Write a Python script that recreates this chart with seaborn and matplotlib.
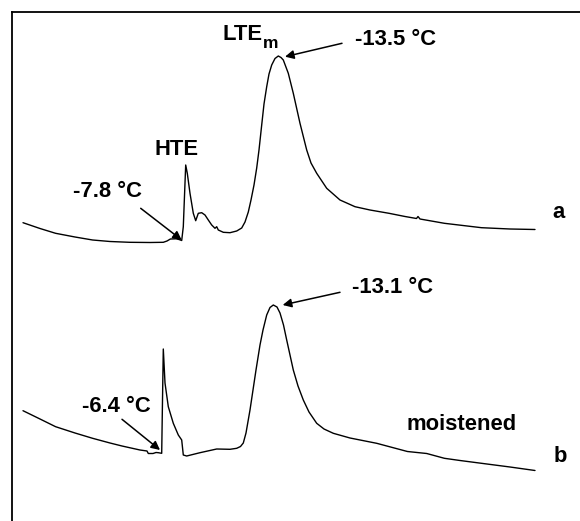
import matplotlib
matplotlib.use("Agg")
import matplotlib.pyplot as plt
import seaborn as sns
import pandas as pd

# ---- data (x = scan position, signal in arbitrary units) ----
x_a = [23, 40, 55.6, 75, 92.6, 110, 129.6, 150, 163.3, 167, 170.4, 176, 179, 181.7,
       183.3, 185.7, 187.3, 190, 193.3, 195.7, 198.3, 201.7, 205, 208.3, 211.7, 215,
       216.7, 218.3, 223.3, 230, 236.7, 241.7, 245, 248.3, 251, 254, 256.7, 259,
       261.7, 264, 266.7, 269, 271.7, 275, 278.3, 281, 283.3, 288.3, 293.3, 300,
       306.7, 311, 316.7, 326.7, 340, 355, 370, 389, 405, 416.5, 418, 420, 444.4,
       481.5, 510, 535]
s_a = [298.3, 292.5, 287.7, 284, 281, 279.5, 278.7, 278.5, 278.7, 280, 282, 282.2,
       281.5, 280.5, 294.3, 356, 347.7, 327.7, 307.7, 300.3, 307.7, 308.3, 306, 301,
       296, 292.7, 294.3, 291, 288.7, 288.3, 290, 293, 299, 309, 321, 336, 353, 371,
       396, 417, 434.3, 447, 456, 462.5, 465, 463.5, 461, 447.7, 427.7, 397.7, 371,
       358, 347.7, 332.7, 321, 314.3, 311, 307.7, 304.5, 302.5, 304.5, 302, 297.7,
       293.3, 292, 291.5]

x_b = [23, 40, 55.6, 75, 92.6, 110, 122, 140, 147, 148.3, 153, 156, 158.3, 161.7,
       162.5, 163.3, 165, 168.3, 173.3, 178.3, 181.7, 183.3, 186.7, 200, 216.7, 230,
       236.7, 240.5, 243.3, 246, 250, 253, 256, 260, 263, 266.7, 270, 273.3, 277,
       280, 283.5, 286.7, 290, 293.3, 298, 303.3, 309, 316.7, 324, 333.3, 350,
       376.7, 407.4, 426.7, 444.4, 460, 481.5, 510, 535]
s_b = [110.3, 102, 94.3, 88, 82.7, 78, 75, 71, 70, 67.5, 67.5, 68.5, 68.3, 67.7,
       121, 172, 138, 114.3, 97.7, 86, 81, 66, 65, 68.3, 72, 71.7, 72.7, 74.5, 78,
       88, 111, 131, 151, 176, 191, 206, 213.5, 216, 214, 208, 196, 181, 166, 151,
       135, 121, 109, 97.7, 92, 87.7, 83, 77.7, 69.5, 67.5, 62.7, 60.5, 57.7, 54,
       50.5]

curve_labels = ["a", "b"]
peak_labels = ["-13.5 °C", "-13.1 °C"]
onset_labels = ["-7.8 °C", "-6.4 °C"]

df = pd.concat([
    pd.DataFrame({"x": x_a, "signal": s_a, "curve": "a"}),
    pd.DataFrame({"x": x_b, "signal": s_b, "curve": "b"}),
], ignore_index=True)

# ---- style ----
sns.set_style("white")
plt.rcParams["font.family"] = ["Liberation Sans", "DejaVu Sans"]

fig = plt.figure(figsize=(5.8, 5.21), dpi=100)
ax = fig.add_axes([12 / 580, 0, 568 / 580, 509 / 521])

sns.lineplot(data=df, x="x", y="signal", units="curve", estimator=None, sort=False,
             color="black", lw=1.0, ax=ax, legend=False)

ax.set_xlim(12, 580)
ax.set_ylim(0, 509)
ax.set_xticks([])
ax.set_yticks([])
ax.set_xlabel("")
ax.set_ylabel("")
for side in ["right", "bottom"]:
    ax.spines[side].set_visible(False)
for side in ["left", "top"]:
    ax.spines[side].set_visible(True)
    ax.spines[side].set_color("black")
    ax.spines[side].set_linewidth(1.3)

fs = 15.8
tkw = dict(fontsize=fs, fontweight="bold", color="black", va="baseline")
akw = dict(arrowstyle="-|>", color="black", lw=1.1, mutation_scale=13,
           shrinkA=0, shrinkB=0)

ax.text(262, 481, "LTE", ha="right", **tkw)
ax.text(262.5, 473.5, "m", fontsize=12.5, fontweight="bold", color="black",
        ha="left", va="baseline")
ax.text(155, 366, "HTE", ha="left", **tkw)
ax.text(355, 476, peak_labels[0], ha="left", **tkw)
ax.annotate("", xy=(285, 464.3), xytext=(342, 477.7), arrowprops=akw)
ax.text(73, 324.3, onset_labels[0], ha="left", **tkw)
ax.annotate("", xy=(181.7, 281), xytext=(140.7, 312.7), arrowprops=akw)
ax.text(552, 303, curve_labels[0], ha="left", **tkw)

ax.text(351.7, 227.7, peak_labels[1], ha="left", **tkw)
ax.annotate("", xy=(282.7, 216), xytext=(340, 228.7), arrowprops=akw)
ax.text(82, 109.3, onset_labels[1], ha="left", **tkw)
ax.annotate("", xy=(160, 71), xytext=(122, 101.7), arrowprops=akw)
ax.text(406.7, 91, "moistened", ha="left", **tkw)
ax.text(554, 59.3, curve_labels[1], ha="left", **tkw)

fig.savefig("out.png", dpi=100)
